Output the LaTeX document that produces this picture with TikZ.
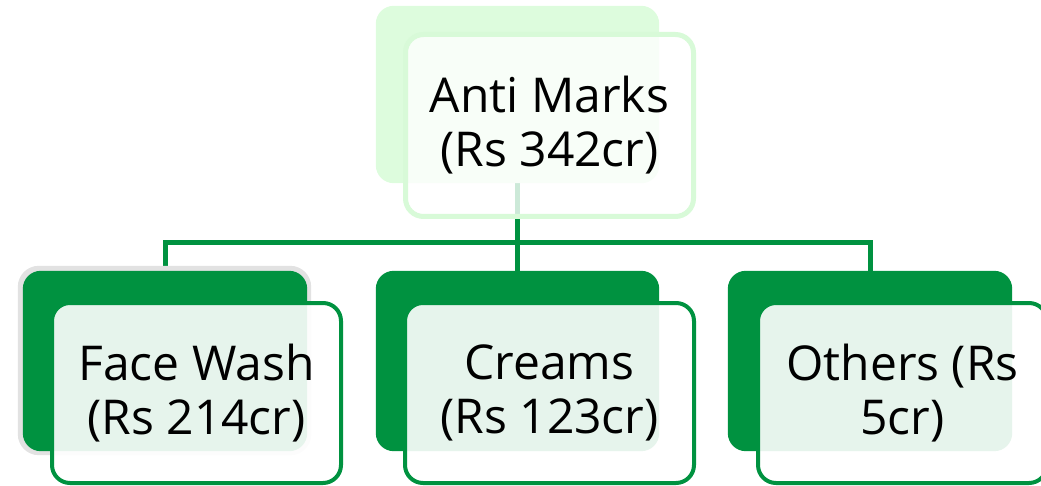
\documentclass[tikz,border=0pt]{standalone}
\usepackage{fontspec}
\setmainfont{Open Sans}
\definecolor{leafgreen}{RGB}{0,146,64}
\definecolor{mintgreen}{RGB}{221,252,221}
\definecolor{mintedge}{RGB}{216,250,216}
\definecolor{haloGray}{RGB}{226,226,226}
\begin{document}
\begin{tikzpicture}[x=1pt,y=-1pt,
  backbox/.style={rectangle,rounded corners=18pt,inner sep=0pt,
    minimum width=284pt,minimum height=180pt},
  frontbox/.style={rectangle,rounded corners=18pt,inner sep=0pt,
    minimum width=289pt,minimum height=180pt,line width=4pt,
    fill=white,fill opacity=0.9,text opacity=1,align=center,
    font=\fontsize{48}{54}\selectfont},
  link/.style={draw=leafgreen,line width=5pt}]
\useasboundingbox (0,0) rectangle (1041,486);
\clip (0,0) rectangle (1041,486);

% connectors, drawn first so the boxes sit on top
\node[backbox,minimum width=283pt,minimum height=177pt] (topback) at (517.5,94.5) {};
\coordinate (hub) at (517.5,243);
\node[backbox] (fwback) at (165,361) {};
\node[backbox,minimum width=283pt] (crback) at (517.5,361) {};
\node[backbox] (otback) at (870,361) {};
\draw[link] (topback.south) -- (hub);
\draw[link] (hub) -| (fwback.north);
\draw[link] (hub) -- (crback.north);
\draw[link] (hub) -| (otback.north);

% top level
\fill[mintgreen,rounded corners=18pt] (topback.north west) rectangle (topback.south east);
\node[frontbox,draw=mintedge,line width=5pt,fill opacity=0.8,
  minimum width=288pt,minimum height=182pt] (top) at (549.5,125.5)
  {Anti Marks\\(Rs 342cr)};

% second level
\fill[haloGray,rounded corners=21pt] ([shift={(-5,-5)}]fwback.north west) rectangle ([shift={(4,4)}]fwback.south east);
\fill[leafgreen,rounded corners=18pt] (fwback.north west) rectangle (fwback.south east);
\fill[leafgreen,rounded corners=18pt] (crback.north west) rectangle (crback.south east);
\fill[leafgreen,rounded corners=18pt] (otback.north west) rectangle (otback.south east);

\node[frontbox,draw=leafgreen] (fw) at (196.5,393) {Face Wash\\(Rs 214cr)};
\node[frontbox,draw=leafgreen] (cr) at (549.5,393) {Creams\\(Rs 123cr)};
\node[frontbox,draw=leafgreen] (ot) at (902.5,393) {Others (Rs\\5cr)};
\end{tikzpicture}
\end{document}
